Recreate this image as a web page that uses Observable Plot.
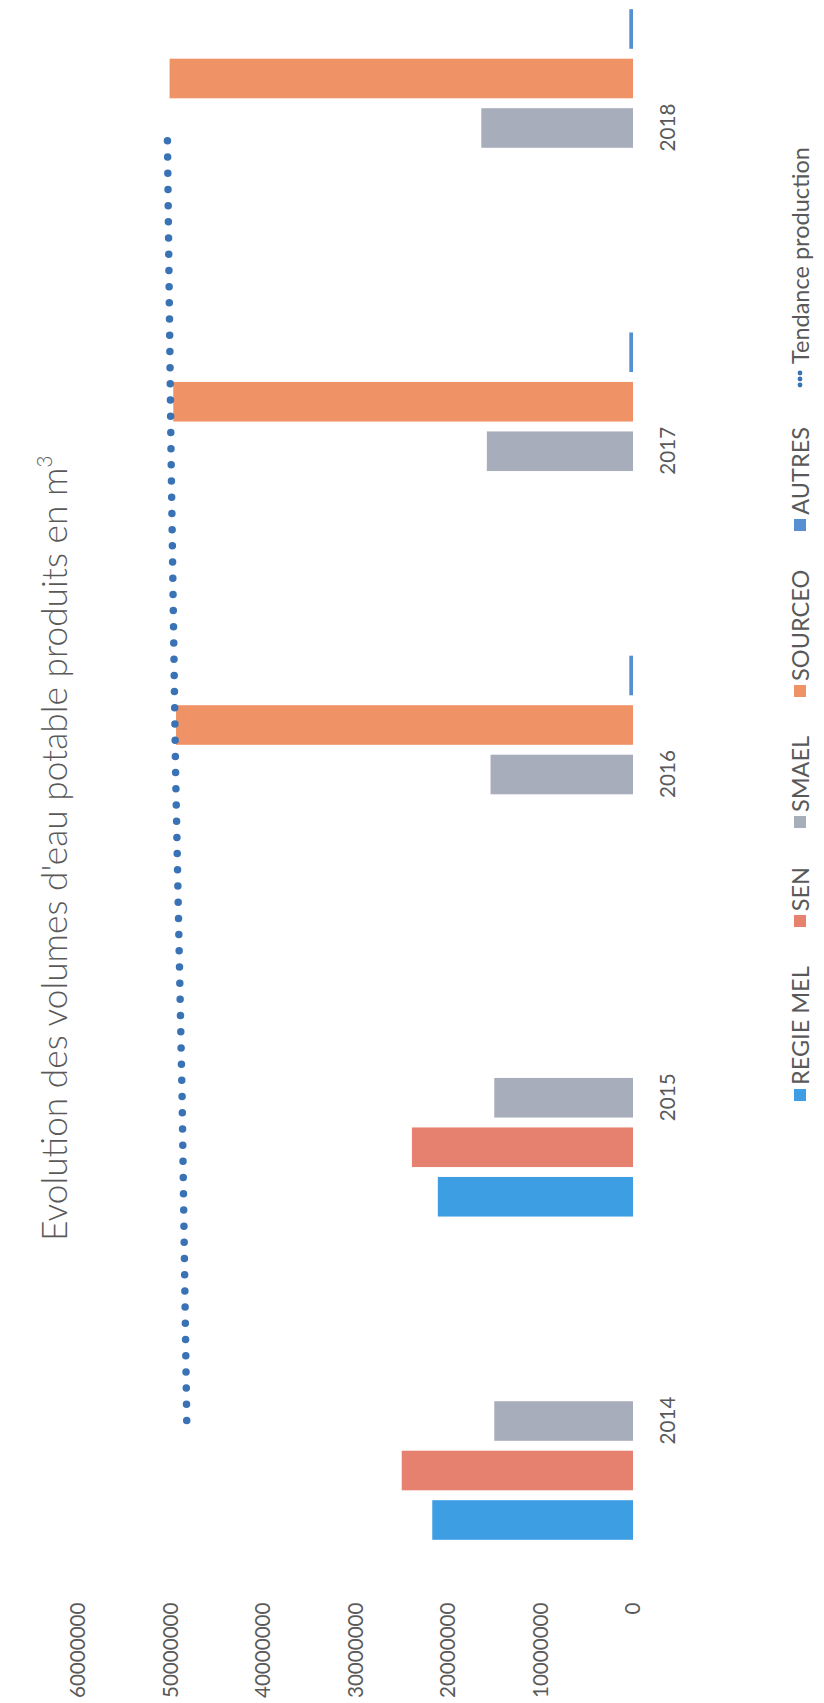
<!DOCTYPE html>
<html>
<head>
<meta charset="utf-8">
<script src="https://cdn.jsdelivr.net/npm/d3@7"></script>
<script src="https://cdn.jsdelivr.net/npm/@observablehq/plot@0.6"></script>
<style>
  html, body { margin: 0; padding: 0; background: #fff; width: 824px; height: 1703px; overflow: hidden; }
  #wrap { position: absolute; left: 0; top: 0; width: 1703px; height: 824px;
          transform-origin: 0 0; transform: translate(0px, 1703px) rotate(-90deg); }
  #chart { position: absolute; left: 0; top: 0; }
  #title { position: absolute; left: 462px; top: 34px; white-space: nowrap;
           font-family: Lato, "Open Sans", sans-serif; font-weight: 300; font-size: 35.3px;
           line-height: 40px; color: #595959; }
  #title sup { font-size: 0.6em; line-height: 0; vertical-align: 0.7em; }
  #legend { position: absolute; left: 602px; top: 787px; display: flex; align-items: center; gap: 39px;
            font-family: Lato, "Open Sans", sans-serif; font-size: 23.5px; line-height: 26px; color: #595959; white-space: nowrap; }
  .item { display: flex; align-items: center; gap: 4px; }
  .sw { width: 12px; height: 12px; display: inline-block; }
</style>
</head>
<body>
<div id="wrap">
  <div id="chart"></div>
  <div id="title">Evolution des volumes d'eau potable produits en m<sup>3</sup></div>
  <div id="legend"></div>
</div>
<script>
// ---- data ----
const years = ["2014", "2015", "2016", "2017", "2018"];
const series = ["REGIE MEL", "SEN", "SMAEL", "SOURCEO", "AUTRES"];
const regieMel = [21.7e6, 21.1e6, 0, 0, 0];
const sen      = [25.0e6, 23.9e6, 0, 0, 0];
const smael    = [15.0e6, 15.0e6, 15.4e6, 15.8e6, 16.4e6];
const sourceo  = [0, 0, 49.4e6, 49.7e6, 50.1e6];
const autres   = [0, 0, 0.4e6, 0.4e6, 0.4e6];
const tendance = [48.3e6, 48.8e6, 49.5e6, 50.0e6, 50.4e6];
const trendLabel = "Tendance production";
const valueTicks = [0, 10000000, 20000000, 30000000, 40000000, 50000000, 60000000];

const colors = ["#3d9ee3", "#e6806f", "#a8adbb", "#ef9367", "#5790d2"];
const trendColor = "#3a73b5";

const valuesBySeries = [regieMel, sen, smael, sourceo, autres];
const rows = [];
series.forEach((s, i) => years.forEach((y, j) => rows.push({series: s, year: y, value: valuesBySeries[i][j]})));
const trendRows = years.map((y, j) => ({year: y, value: tendance[j]}));

const slot = 49.5; // spacing between bars of one year group
const barMarks = series.map((s, i) =>
  Plot.barY(rows.filter(d => d.series === s && d.value > 0), {
    x: "year", y: "value", fill: colors[i], dx: (i - (series.length - 1) / 2) * slot
  })
);

const chart = Plot.plot({
  width: 1703,
  height: 824,
  marginLeft: 154,
  marginRight: 0,
  marginTop: 78,
  marginBottom: 191,
  style: {fontFamily: "Lato, 'Open Sans', sans-serif", fontSize: "20.6px", color: "#595959", background: "transparent"},
  x: {type: "band", domain: years, paddingInner: 0.8775, paddingOuter: 0.3347, round: false, label: null},
  y: {domain: [0, 60000000], label: null},
  marks: [
    ...barMarks,
    Plot.line(trendRows, {x: "year", y: "value", stroke: trendColor, strokeWidth: 7.5,
      strokeDasharray: "0 16.2", strokeLinecap: "round"}),
    Plot.axisY({ticks: valueTicks, tickFormat: d => String(d), tickSize: 0, tickPadding: 54, label: null}),
    Plot.axisX({tickSize: 0, tickPadding: 27, label: null})
  ]
});
document.getElementById("chart").appendChild(chart);

// ---- legend ----
const legend = document.getElementById("legend");
series.forEach((s, i) => {
  const it = document.createElement("div");
  it.className = "item";
  it.innerHTML = `<span class="sw" style="background:${colors[i]}"></span><span>${s}</span>`;
  legend.appendChild(it);
});
const tr = document.createElement("div");
tr.className = "item";
tr.innerHTML = `<svg width="18" height="8" viewBox="0 0 18 8"><circle cx="3" cy="4" r="2.4" fill="${trendColor}"/><circle cx="9" cy="4" r="2.4" fill="${trendColor}"/><circle cx="15" cy="4" r="2.4" fill="${trendColor}"/></svg><span>${trendLabel}</span>`;
tr.style.gap = "6px";
legend.appendChild(tr);
</script>
</body>
</html>
